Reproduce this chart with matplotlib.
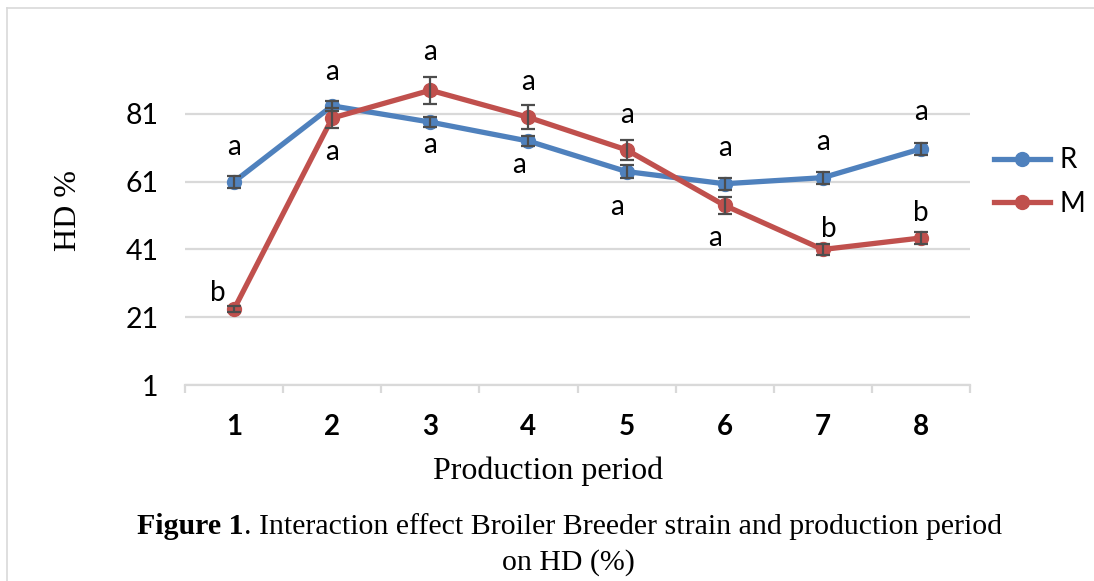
import matplotlib.pyplot as plt
from matplotlib.lines import Line2D

# Data
periods = [1, 2, 3, 4, 5, 6, 7, 8]
hd_R = [61.0, 83.4, 78.6, 73.0, 64.0, 60.4, 62.2, 70.7]
hd_M = [23.4, 79.8, 88.0, 80.0, 70.4, 54.0, 41.0, 44.4]
err_R = [1.8, 1.5, 1.5, 1.5, 1.8, 1.8, 1.8, 1.8]
err_M = [0.8, 3.0, 4.0, 3.5, 3.0, 2.5, 1.5, 1.8]
letters_R = ['a', 'a', 'a', 'a', 'a', 'a', 'a', 'a']
letters_M = ['b', 'a', 'a', 'a', 'a', 'a', 'b', 'b']
yticks = [1, 21, 41, 61, 81]

# label offsets (pixels, dx, dy) relative to each point
off_R = [(0, 35), (0, 34), (0, -23), (-9, -24), (-10, -35), (0, 36), (0, 36), (0, 37)]
off_M = [(-16, 16), (0, -34), (0, 38), (0, 35), (0, 35), (-10, -33), (6, 20), (0, 25)]

blue = '#4F81BD'
red = '#C0504D'
grid_c = '#D9D9D9'
sans = ['Lato', 'DejaVu Sans']
serif = ['Liberation Serif', 'DejaVu Serif']

fig = plt.figure(figsize=(10.94, 5.81), dpi=100)
W, H = 1094, 581
ax = fig.add_axes([185 / W, (H - 385) / H, 785 / W, 335.4 / H])

# chart frame: only the top and left edges are visible
fig.lines.append(Line2D([7 / W, 7 / W], [0, 1 - 8 / H], transform=fig.transFigure,
                        color=grid_c, linewidth=1.2))
fig.lines.append(Line2D([7 / W, 1], [1 - 8 / H, 1 - 8 / H], transform=fig.transFigure,
                        color=grid_c, linewidth=1.2))

for vals, errs, col, name in [(hd_R, err_R, blue, 'R'), (hd_M, err_M, red, 'M')]:
    ax.errorbar(periods, vals, yerr=errs, fmt='none', ecolor='#4D4D4D',
                elinewidth=1.6, capsize=5, capthick=1.6, zorder=4)
    ax.plot(periods, vals, color=col, linewidth=3.8, marker='o',
            markersize=10, label=name, zorder=3)

pt2px = 100 / 72
for vals, letters, offs in [(hd_R, letters_R, off_R), (hd_M, letters_M, off_M)]:
    for x, y, t, (dx, dy) in zip(periods, vals, letters, offs):
        ax.annotate(t, (x, y), xytext=(dx / pt2px, dy / pt2px),
                    textcoords='offset points', ha='center', va='center',
                    fontsize=20, family=sans, color='black', zorder=5)

ax.set_xlim(0.5, 8.5)
ax.set_ylim(1, 100)
ax.set_yticks(yticks)
ax.set_xticks(periods)
ax.set_xticks([p + 0.5 for p in [0] + periods], minor=True)
ax.tick_params(axis='y', length=0, pad=19, labelsize=20.5)
ax.tick_params(axis='x', which='major', length=0, pad=21, labelsize=20)
ax.tick_params(axis='x', which='minor', length=6, width=1.6, color=grid_c)
for lab in ax.get_yticklabels():
    lab.set_family(sans)
for lab in ax.get_xticklabels():
    lab.set_family(sans)
    lab.set_fontweight('bold')

ax.grid(axis='y', color=grid_c, linewidth=1.6)
ax.set_axisbelow(True)
for s in ['top', 'right', 'left']:
    ax.spines[s].set_visible(False)
ax.spines['bottom'].set_color(grid_c)
ax.spines['bottom'].set_linewidth(1.6)

fig.text(68 / W, 1 - 210 / H, 'HD %', rotation=90, ha='center', va='center',
         fontsize=23, family=serif)
fig.text(548 / W, 1 - 471 / H, 'Production period', ha='center', va='center',
         fontsize=23, family=serif)

leg = fig.legend(loc='center left', bbox_to_anchor=(994 / W, 1 - 182 / H),
                 frameon=False, prop={'family': sans, 'size': 20},
                 handlelength=2.0, handletextpad=0.35, labelspacing=0.62,
                 borderaxespad=0, borderpad=0)

# caption
fig.canvas.draw()
r = fig.canvas.get_renderer()
t1 = fig.text(137 / W, 1 - 527 / H, 'Figure 1', ha='left', va='center',
              fontsize=21.5, family=serif, fontweight='bold')
bb = t1.get_window_extent(renderer=r)
fig.text(bb.x1 / W, 1 - 527 / H, '. Interaction effect Broiler Breeder strain and production period',
         ha='left', va='center', fontsize=21.5, family=serif)
fig.text(568 / W, 1 - 563 / H, 'on HD (%)', ha='center', va='center',
         fontsize=21.5, family=serif)

fig.savefig('out.png', dpi=100)
